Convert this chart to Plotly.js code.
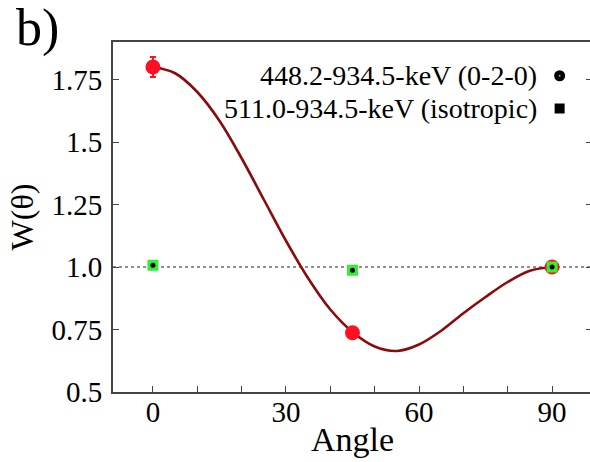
<!DOCTYPE html>
<html>
<head>
<meta charset="utf-8">
<script src="https://cdn.plot.ly/plotly-3.0.1.min.js"></script>
<style>
html,body{margin:0;padding:0;overflow:hidden;background:#fff;}
#chart{width:596px;height:462px;}
</style>
</head>
<body>
<div id="chart"></div>
<script>
// Angular correlation data
const anglesMeas = [0, 45, 90];
const w020 = [1.80, 0.737, 1.0];
const w020Err = [0.04, 0.01, 0.0];
const wIso = [1.007, 0.987, 1.0];

// Fitted curve
const fitAngles = [0, 5, 10, 15, 20, 25, 30, 35, 40, 45, 50, 55, 60, 65, 70, 75, 80, 85, 90];
const fitW = [1.80, 1.775, 1.70, 1.585, 1.435, 1.27, 1.105, 0.955, 0.83, 0.74, 0.682, 0.664, 0.69, 0.745, 0.815, 0.88, 0.94, 0.985, 1.0];

const xTickVals = [0, 10, 20, 30, 40, 50, 60, 70, 80, 90];
const xTickText = ['0', '', '', '30', '', '', '60', '', '', '90'];
const yTickVals = [0.5, 0.75, 1.0, 1.25, 1.5, 1.75];
const yTickText = ['0.5', '0.75', '1.0', '1.25', '1.5', '1.75'];

const legendLabels = ['448.2-934.5-keV (0-2-0)', '511.0-934.5-keV (isotropic)'];

const FONT = 'Liberation Serif';

const traces = [
  {x: fitAngles, y: fitW, mode: 'lines', line: {color: '#8b0a0a', width: 2.6, shape: 'spline', smoothing: 1}, showlegend: false, hoverinfo: 'skip'},
  {x: anglesMeas, y: w020, mode: 'markers', marker: {color: '#ff1020', size: 15, symbol: 'circle'},
   error_y: {type: 'data', array: w020Err, visible: true, color: '#ff1020', thickness: 2, width: 3}, showlegend: false, cliponaxis: false},
  {x: anglesMeas, y: wIso, mode: 'markers', marker: {color: '#33ee33', size: 11, symbol: 'square'}, showlegend: false, cliponaxis: false},
  {x: anglesMeas, y: wIso, mode: 'markers', marker: {color: '#000', size: 5, symbol: 'circle'}, showlegend: false, cliponaxis: false}
];

const legX = 91.7;
const legY = [1.765, 1.634];
const legTextX = 87.1;

const layout = {
  width: 596, height: 462,
  margin: {l: 113, r: 3.5, t: 42.2, b: 70.4},
  paper_bgcolor: '#fff', plot_bgcolor: '#fff',
  font: {family: FONT, color: '#000', size: 29},
  showlegend: false,
  xaxis: {
    range: [-9, 99], showgrid: false, zeroline: false,
    showline: true, linecolor: '#444', linewidth: 2, mirror: true,
    ticks: 'inside', ticklen: 6, tickwidth: 1, tickcolor: '#444',
    tickmode: 'array', tickvals: xTickVals, ticktext: xTickText,
    ticklabelstandoff: -7,
    tickfont: {family: FONT, size: 29, color: '#000'},
    title: {text: 'Angle', font: {family: FONT, size: 34, color: '#000'}, standoff: 0}
  },
  yaxis: {
    range: [0.5, 1.9], showgrid: false, zeroline: false,
    showline: true, linecolor: '#444', linewidth: 2, mirror: 'ticks',
    ticks: 'inside', ticklen: 6, tickwidth: 1, tickcolor: '#444',
    tickmode: 'array', tickvals: yTickVals, ticktext: yTickText,
    ticklabelstandoff: 3,
    tickfont: {family: FONT, size: 29, color: '#000'},
    title: {text: 'W(θ)', font: {family: FONT, size: 32, color: '#000'}, standoff: 8}
  },
  shapes: [
    {type: 'line', xref: 'paper', yref: 'y', x0: 0, x1: 1, y0: 1, y1: 1, line: {color: '#222', width: 1, dash: 'dot'}, layer: 'below'},
    {type: 'circle', xref: 'x', yref: 'y', xsizemode: 'pixel', ysizemode: 'pixel', xanchor: legX, yanchor: legY[0], x0: -5.5, x1: 5.5, y0: -5.5, y1: 5.5, fillcolor: '#000', line: {width: 0}},
    {type: 'circle', xref: 'x', yref: 'y', xsizemode: 'pixel', ysizemode: 'pixel', xanchor: legX, yanchor: legY[0], x0: -1, x1: 1, y0: -1, y1: 1, fillcolor: '#999', line: {width: 0}},
    {type: 'rect', xref: 'x', yref: 'y', xsizemode: 'pixel', ysizemode: 'pixel', xanchor: legX, yanchor: legY[1], x0: -5, x1: 5, y0: -5, y1: 5, fillcolor: '#000', line: {width: 0}}
  ],
  annotations: [
    {xref: 'x', yref: 'y', x: legTextX, y: legY[0], text: legendLabels[0], showarrow: false, xanchor: 'right', yanchor: 'middle', font: {family: FONT, size: 28, color: '#000'}},
    {xref: 'x', yref: 'y', x: legTextX, y: legY[1], text: legendLabels[1], showarrow: false, xanchor: 'right', yanchor: 'middle', font: {family: FONT, size: 28, color: '#000'}},
    {xref: 'paper', yref: 'paper', x: -0.158, y: 1.04, text: 'b)', showarrow: false, xanchor: 'center', yanchor: 'middle', font: {family: FONT, size: 52, color: '#000'}}
  ]
};

Plotly.newPlot('chart', traces, layout, {displayModeBar: false, staticPlot: true});
</script>
</body>
</html>
